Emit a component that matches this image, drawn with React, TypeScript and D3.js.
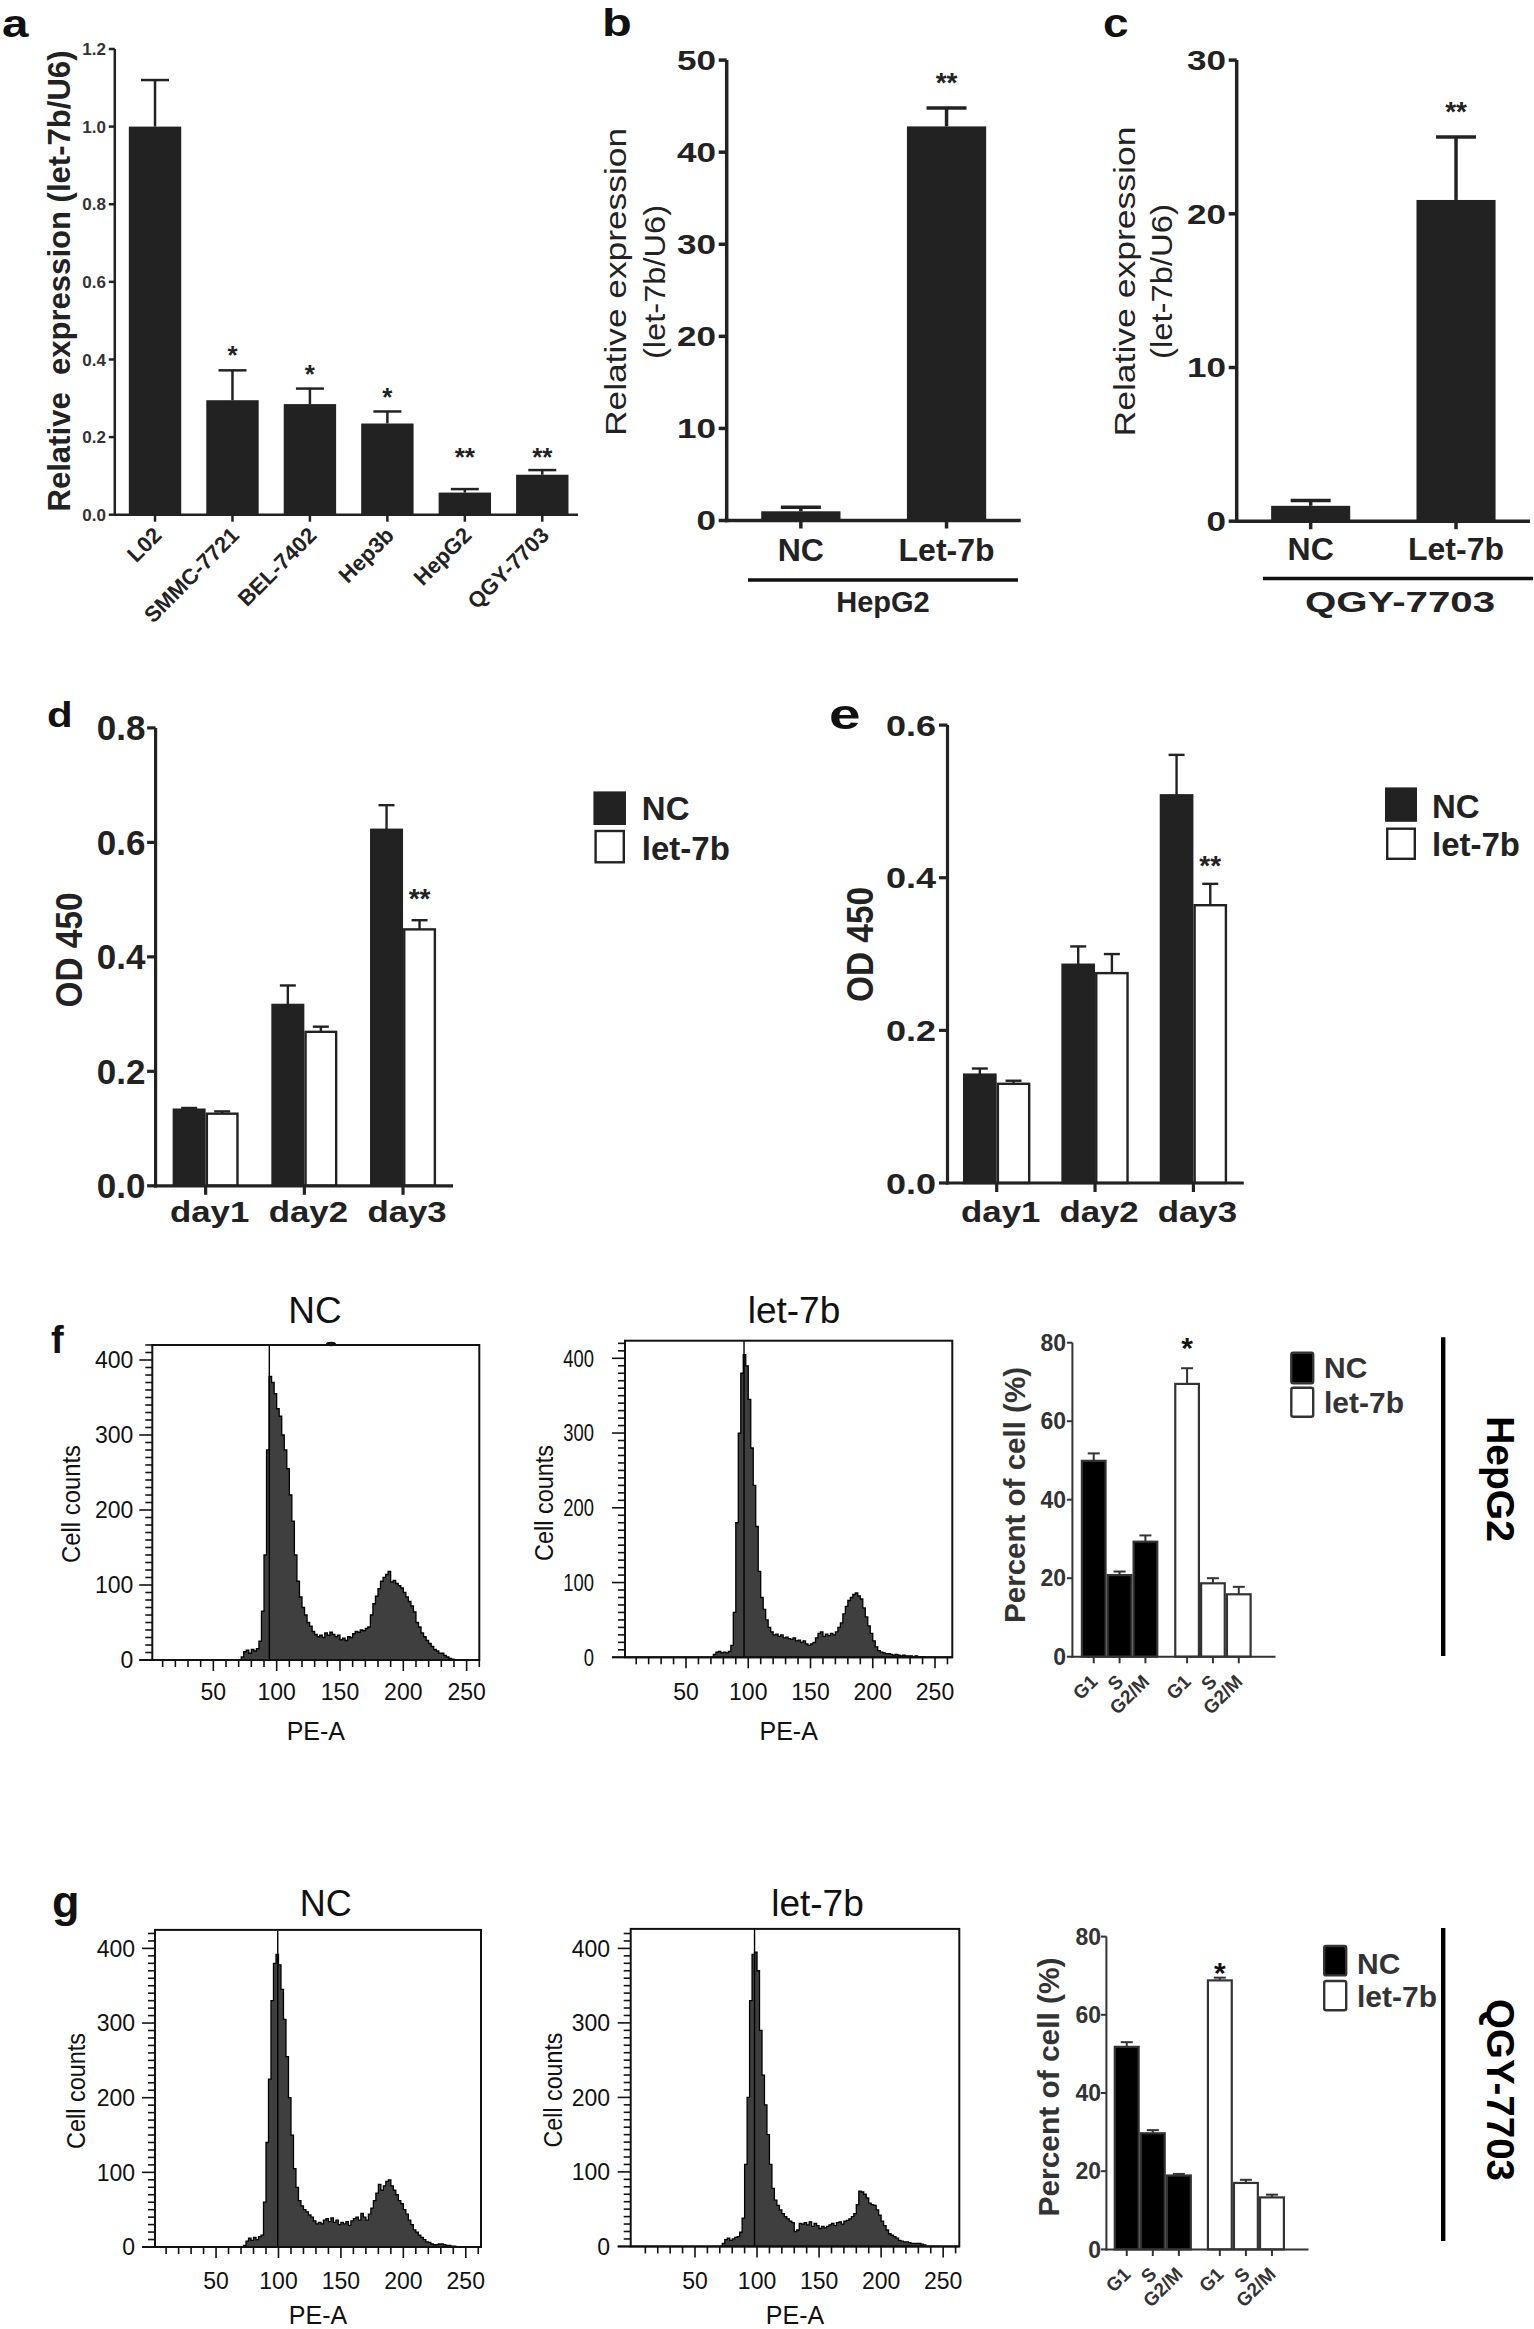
import React from 'react';
import * as d3 from 'd3';

const FONT = '"Liberation Sans", Arial, Helvetica, sans-serif';

// ---------- data: panel a ----------
const aCats = ['L02', 'SMMC-7721', 'BEL-7402', 'Hep3b', 'HepG2', 'QGY-7703'];
const aMean = [1.0, 0.295, 0.285, 0.235, 0.057, 0.103];
const aErr = [0.12, 0.077, 0.04, 0.031, 0.009, 0.012];
const aSig = ['', '*', '*', '*', '**', '**'];
const aSigAt = [0, 0.425, 0.377, 0.316, 0.163, 0.163];
const aTicks = [0, 0.2, 0.4, 0.6, 0.8, 1.0, 1.2];

// ---------- data: panels b, c ----------
const bcCats = ['NC', 'Let-7b'];
const bMean = [1.0, 42.8];
const bErr = [0.45, 2.0];
const bSig = ['', '**'];
const bSigAt = [0, 48.2];
const bTicks = [0, 10, 20, 30, 40, 50];
const cMean = [1.0, 20.9];
const cErr = [0.35, 4.1];
const cSig = ['', '**'];
const cSigAt = [0, 27.07];
const cTicks = [0, 10, 20, 30];

// ---------- data: panels d, e ----------
const days = ['day1', 'day2', 'day3'];
const dNC = [0.133, 0.316, 0.622];
const dNCErr = [0.003, 0.034, 0.043];
const dLet = [0.126, 0.269, 0.448];
const dLetErr = [0.004, 0.009, 0.016];
const dSig = ['', '', '**'];
const dSigAt = [0, 0, 0.513];
const dTicks = [0, 0.2, 0.4, 0.6, 0.8];
const eNC = [0.142, 0.286, 0.508];
const eNCErr = [0.008, 0.024, 0.053];
const eLet = [0.13, 0.275, 0.364];
const eLetErr = [0.004, 0.025, 0.028];
const eSig = ['', '', '**'];
const eSigAt = [0, 0, 0.4237];
const eTicks = [0, 0.2, 0.4, 0.6];

// ---------- data: cell cycle bars f, g ----------
const phases = ['G1', 'S', 'G2/M'];
const groups = ['NC', 'let-7b'];
const fNC = [49.9, 20.8, 29.3];
const fNCErr = [1.9, 0.9, 1.6];
const fLet = [69.5, 18.7, 15.9];
const fLetErr = [4.0, 1.3, 1.9];
const fSigAt = 80.25;
const gNC = [51.8, 29.7, 18.9];
const gNCErr = [1.2, 0.8, 0.4];
const gLet = [68.8, 17.0, 13.3];
const gLetErr = [0.7, 0.8, 0.7];
const gSigAt = 72.3;
const pctTicks = [0, 20, 40, 60, 80];

// ---------- data: DNA histograms (PE-A bins start 70, width 2) ----------
const histPE0 = 70;
const histStep = 2;
const histYTicks = [0, 100, 200, 300, 400];
const histXTicks = [50, 100, 150, 200, 250];
const fNcCounts = [
  0, 4, 11, 13, 9, 14, 12, 15, 25, 65,
  140, 280, 378, 370, 355, 335, 325, 300, 280, 255,
  220, 185, 140, 105, 84, 70, 60, 50, 45, 38,
  34, 31, 33, 30, 36, 33, 37, 34, 31, 33,
  27, 29, 26, 31, 30, 35, 38, 37, 40, 39,
  42, 44, 60, 75, 85, 95, 105, 110, 114, 118,
  104, 106, 102, 99, 96, 90, 84, 78, 72, 64,
  50, 44, 36, 31, 26, 22, 18, 14, 12, 9,
  9, 6, 4, 2, 1, 0, 0, 0, 0,
];
const fLetCounts = [
  0, 4, 7, 8, 6, 7, 6, 8, 16, 60,
  180, 300, 380, 405, 390, 345, 280, 230, 175, 115,
  80, 64, 50, 40, 34, 30, 31, 28, 30, 26,
  27, 25, 24, 26, 22, 23, 20, 22, 18, 16,
  18, 20, 26, 32, 34, 28, 31, 29, 32, 30,
  34, 40, 46, 58, 68, 76, 80, 84, 86, 82,
  78, 66, 54, 42, 32, 22, 14, 9, 7, 6,
  5, 5, 4, 3, 4, 3, 2, 3, 2, 2,
  2, 1, 2, 1, 1, 1, 0, 0, 0,
];
const gNcCounts = [
  0, 2, 8, 12, 9, 13, 10, 14, 16, 60,
  140, 225, 330, 380, 392, 378, 345, 305, 255, 200,
  150, 105, 80, 62, 55, 50, 47, 43, 40, 35,
  31, 33, 31, 36, 38, 34, 39, 33, 36, 30,
  33, 31, 34, 29, 35, 38, 40, 36, 45, 40,
  36, 44, 52, 62, 72, 84, 76, 82, 88, 90,
  82, 76, 70, 62, 58, 50, 44, 36, 30, 23,
  20, 16, 13, 10, 7, 6, 4, 3, 3, 4,
  4, 3, 2, 2, 1, 1, 0, 0, 0,
];
const gLetCounts = [
  0, 4, 9, 11, 8, 10, 12, 13, 19, 38,
  110, 200, 330, 392, 395, 370, 290, 230, 190, 150,
  110, 78, 62, 55, 49, 44, 40, 37, 34, 32,
  20, 22, 31, 30, 32, 29, 33, 27, 31, 28,
  24, 27, 25, 27, 29, 31, 28, 32, 33, 30,
  34, 35, 37, 40, 44, 56, 74, 73, 70, 65,
  58, 56, 55, 49, 42, 34, 28, 22, 17, 15,
  13, 11, 8, 7, 6, 6, 5, 4, 4, 4,
  4, 3, 2, 0, 0, 0, 0, 0, 0,
];

// ---------- helpers ----------
function T(props: any) {
  const { x, y, rot = 0, sx = 1, sy = 1, size, weight = 'normal', anchor = 'start', fill = '#222', len, children, pre } = props;
  let tr = `translate(${x},${y})`;
  if (rot) tr += ` rotate(${rot})`;
  if (sx !== 1 || sy !== 1) tr += ` scale(${sx},${sy})`;
  return (
    <text
      transform={tr}
      fontFamily={FONT}
      fontSize={size}
      fontWeight={weight}
      textAnchor={anchor}
      fill={fill}
      textLength={len}
      lengthAdjust={len ? 'spacingAndGlyphs' : undefined}
      xmlSpace={pre ? 'preserve' : undefined}
      style={pre ? { whiteSpace: 'pre' } : undefined}
    >
      {children}
    </text>
  );
}

function ErrBar({ cx, y1, y2, hw, sw, color = '#222' }: any) {
  return (
    <g stroke={color} strokeWidth={sw}>
      <line x1={cx} x2={cx} y1={y1} y2={y2} />
      <line x1={cx - hw} x2={cx + hw} y1={y2} y2={y2} />
    </g>
  );
}

// ---------- panel a ----------
function PanelA() {
  const x = d3.scaleBand<string>().domain(aCats).range([116.3, 581]).paddingInner(0.3235).paddingOuter(0.1617);
  const y = d3.scaleLinear().domain([0, 1.2]).range([514.7, 49]);
  const ax = 114.8;
  const y0 = y(0);
  const bw = x.bandwidth();
  return (
    <g>
      <T x={2} y={37} size={39} sx={1.22} weight="bold" fill="#111">a</T>
      {aCats.map((c, i) => {
        const cx = (x(c) as number) + bw / 2;
        return (
          <g key={c}>
            <rect x={x(c)} y={y(aMean[i])} width={bw} height={y0 - y(aMean[i])} fill="#222" />
            <ErrBar cx={cx} y1={y(aMean[i])} y2={y(aMean[i] + aErr[i])} hw={14} sw={2.5} />
            {aSig[i] ? (
              <T x={cx} y={y(aSigAt[i]) + 0.553 * 26} size={26} weight="bold" anchor="middle">{aSig[i]}</T>
            ) : null}
            <line x1={cx} x2={cx} y1={y0} y2={y0 + 7} stroke="#222" strokeWidth={2.5} />
            <T x={cx + 8} y={y0 + 22} rot={-45} size={22} weight="bold" anchor="end">{c}</T>
          </g>
        );
      })}
      <line x1={ax} x2={ax} y1={y(1.2)} y2={y0 + 1.2} stroke="#222" strokeWidth={2.5} />
      <line x1={ax - 1.2} x2={578} y1={y0} y2={y0} stroke="#222" strokeWidth={2.5} />
      {aTicks.map((t) => (
        <g key={t}>
          <line x1={ax - 6} x2={ax} y1={y(t)} y2={y(t)} stroke="#222" strokeWidth={2.5} />
          <T x={106} y={y(t) + 6.2} size={17} weight="bold" anchor="end" fill="#333">{d3.format('.1f')(t)}</T>
        </g>
      ))}
      <T x={70} y={281} rot={-90} size={31} weight="bold" anchor="middle" len={461} pre>
        {'Relative  expression (let-7b/U6)'}
      </T>
    </g>
  );
}

// ---------- panels b, c ----------
function ExprPanel({ cfg }: any) {
  const x = d3.scaleBand<string>().domain(bcCats).range([cfg.ax, cfg.ar]).paddingInner(0.456).paddingOuter(0.237);
  const y = d3.scaleLinear().domain([0, cfg.yMax]).range([cfg.py0, cfg.pyTop]);
  const y0 = y(0);
  const bw = x.bandwidth();
  return (
    <g>
      <T x={cfg.letterX} y={cfg.letterBase} size={cfg.letterSize} sx={cfg.letterSx} weight="bold" fill="#111">{cfg.letter}</T>
      {bcCats.map((c, i) => {
        const cx = (x(c) as number) + bw / 2;
        return (
          <g key={c}>
            <rect x={x(c)} y={y(cfg.means[i])} width={bw} height={y0 - y(cfg.means[i])} fill="#222" />
            <ErrBar cx={cx} y1={y(cfg.means[i])} y2={y(cfg.means[i] + cfg.errs[i])} hw={20} sw={3.5} />
            {cfg.sig[i] ? (
              <T x={cx} y={y(cfg.sigAt[i]) + 0.553 * 28} size={28} weight="bold" anchor="middle">{cfg.sig[i]}</T>
            ) : null}
            <line x1={cx} x2={cx} y1={y0} y2={y0 + 8} stroke="#222" strokeWidth={3.5} />
            <T x={cx} y={cfg.xlabBase} size={32} weight="bold" anchor="middle">{c}</T>
          </g>
        );
      })}
      <line x1={cfg.ax} x2={cfg.ax} y1={cfg.pyTop} y2={y0 + 1.7} stroke="#222" strokeWidth={3.5} />
      <line x1={cfg.ax - 1.7} x2={cfg.ar} y1={y0} y2={y0} stroke="#222" strokeWidth={3.5} />
      {cfg.ticks.map((t: number) => (
        <g key={t}>
          <line x1={cfg.ax - 8} x2={cfg.ax} y1={y(t)} y2={y(t)} stroke="#222" strokeWidth={3.5} />
          <T x={cfg.tickEnd} y={y(t) + 9.7} size={27} sx={1.3} weight="bold" anchor="end">{String(t)}</T>
        </g>
      ))}
      <line x1={cfg.uX1} x2={cfg.uX2} y1={cfg.uY} y2={cfg.uY} stroke="#111" strokeWidth={3.5} />
      <T x={(cfg.uX1 + cfg.uX2) / 2 + cfg.groupDx} y={612} size={29} weight="bold" anchor="middle" len={cfg.groupLen}>{cfg.group}</T>
      <T x={cfg.yl1x} y={cfg.ylY} rot={-90} sy={0.85} size={34} anchor="middle" len={cfg.yl1len}>Relative expression</T>
      <T x={cfg.yl2x} y={cfg.ylY} rot={-90} sy={0.85} size={34} anchor="middle" len={cfg.yl2len}>(let-7b/U6)</T>
    </g>
  );
}

// ---------- panels d, e ----------
function GrowthPanel({ cfg }: any) {
  const x0 = d3.scaleBand<string>().domain(days).range([cfg.gx0, cfg.gx1]).paddingInner(cfg.pi).paddingOuter(cfg.pi / 2);
  const x1 = d3.scaleBand<string>().domain(groups).range([0, x0.bandwidth()]);
  const y = d3.scaleLinear().domain([0, cfg.yMax]).range([cfg.py0, cfg.pyTop]);
  const y0 = y(0);
  const bw = x1.bandwidth();
  const series = [
    { key: 'NC', vals: cfg.nc, errs: cfg.ncErr, fill: '#222' },
    { key: 'let-7b', vals: cfg.lt, errs: cfg.ltErr, fill: '#fff' },
  ];
  return (
    <g>
      <T x={cfg.letterX} y={cfg.letterBase} size={cfg.letterSize} sx={cfg.letterSx} weight="bold" fill="#111">{cfg.letter}</T>
      {days.map((dd, i) => {
        const gx = x0(dd) as number;
        const tickX = gx + x0.bandwidth() / 2;
        return (
          <g key={dd}>
            {series.map((s) => {
              const bx = gx + (x1(s.key) as number);
              return (
                <g key={s.key}>
                  <rect x={bx + 1.2} y={y(s.vals[i])} width={bw - 2.4} height={y0 - y(s.vals[i])} fill={s.fill} stroke="#222" strokeWidth={2.4} />
                  <ErrBar cx={bx + bw / 2} y1={y(s.vals[i])} y2={y(s.vals[i] + s.errs[i])} hw={8} sw={2.4} />
                </g>
              );
            })}
            {cfg.sig[i] ? (
              <T x={gx + (x1('let-7b') as number) + bw / 2} y={y(cfg.sigAt[i]) + 0.553 * 28} size={28} weight="bold" anchor="middle">{cfg.sig[i]}</T>
            ) : null}
            <line x1={tickX} x2={tickX} y1={y0} y2={y0 + 9} stroke="#222" strokeWidth={3.2} />
            <T x={tickX + 4} y={1222} size={29} sx={1.2} weight="bold" anchor="middle">{dd}</T>
          </g>
        );
      })}
      <line x1={cfg.ax} x2={cfg.ax} y1={cfg.pyTop} y2={y0 + 1.6} stroke="#222" strokeWidth={3.2} />
      <line x1={cfg.ax - 1.6} x2={cfg.ar} y1={y0} y2={y0} stroke="#222" strokeWidth={3.2} />
      {cfg.ticks.map((t: number) => (
        <g key={t}>
          <line x1={cfg.ax - 8.5} x2={cfg.ax} y1={y(t)} y2={y(t)} stroke="#222" strokeWidth={3.2} />
          <T x={cfg.tickEnd} y={y(t) + 0.358 * cfg.tickSize} size={cfg.tickSize} sx={cfg.tickSx} weight="bold" anchor="end">{d3.format('.1f')(t)}</T>
        </g>
      ))}
      <T x={cfg.odX} y={cfg.odY} rot={-90} size={36} weight="bold" anchor="middle" len={115}>OD 450</T>
      <rect x={cfg.lgX} y={cfg.lgY1} width={cfg.lgW} height={cfg.lgH1} fill="#222" stroke="#222" strokeWidth={2} />
      <rect x={cfg.lgX + 1.2} y={cfg.lgY2} width={cfg.lgW - 2.4} height={cfg.lgH2} fill="#fff" stroke="#222" strokeWidth={2.4} />
      <T x={cfg.lgTx} y={cfg.lgTb1} size={33} weight="bold">NC</T>
      <T x={cfg.lgTx} y={cfg.lgTb2} size={33} weight="bold">let-7b</T>
    </g>
  );
}

// ---------- histograms ----------
function Hist({ cfg }: any) {
  const { box } = cfg;
  const x = d3.scaleLinear().domain(cfg.xDom).range([box.l, box.r]);
  const y = d3.scaleLinear().domain([0, 400]).range([box.b, cfg.y400]);
  const pts = cfg.counts.map((c: number, i: number) => ({ pe: histPE0 + i * histStep, c }));
  pts.push({ pe: histPE0 + cfg.counts.length * histStep, c: 0 });
  const area = d3
    .area<any>()
    .x((d) => x(d.pe))
    .y0(y(0))
    .y1((d) => y(d.c))
    .curve(d3.curveStepAfter);
  const topCount = y.invert(box.t);
  const yTicks = d3.range(0, Math.floor(topCount) + 1, 10);
  const xTicks = d3.range(10, 261, 10).filter((v) => x(v) > box.l + 2 && x(v) <= box.r + 0.5);
  const clipId = `clip-${cfg.id}`;
  return (
    <g>
      <defs>
        <clipPath id={clipId}>
          <rect x={box.l} y={box.t} width={box.r - box.l} height={box.b - box.t} />
        </clipPath>
      </defs>
      <g clipPath={`url(#${clipId})`}>
        <path d={area(pts) as string} fill="#3f3f3f" stroke="#000" strokeWidth={1.3} strokeLinejoin="miter" />
        <line x1={x(cfg.spike)} x2={x(cfg.spike)} y1={y(0)} y2={box.t} stroke="#000" strokeWidth={1.4} />
      </g>
      <rect x={box.l} y={box.t} width={box.r - box.l} height={box.b - box.t} fill="none" stroke="#111" strokeWidth={2} />
      {yTicks.map((c) => (
        <line key={c} x1={box.l - (c % 100 === 0 ? 13 : 7)} x2={box.l} y1={y(c)} y2={y(c)} stroke="#111" strokeWidth={1.6} />
      ))}
      {histYTicks.map((c) => (
        <T key={c} x={cfg.tickEnd} y={y(c) + 8.2} size={23} sx={cfg.tickSx || 1} anchor="end" fill="#111">{String(c)}</T>
      ))}
      <line x1={box.l - 13} x2={box.r} y1={box.b} y2={box.b} stroke="#111" strokeWidth={2} />
      {xTicks.map((v) => (
        <line key={v} x1={x(v)} x2={x(v)} y1={box.b} y2={box.b + (v % 50 === 0 ? 11 : 7)} stroke="#111" strokeWidth={1.6} />
      ))}
      {histXTicks.map((v) => (
        <T key={v} x={x(v)} y={cfg.xLabBase} size={23} anchor="middle" fill="#111">{String(v)}</T>
      ))}
      <T x={(box.l + box.r) / 2} y={cfg.peBase} size={25} anchor="middle" fill="#111">PE-A</T>
      <T x={cfg.cellX} y={cfg.cellY} rot={-90} size={25} anchor="middle" fill="#111" len={cfg.cellLen}>Cell counts</T>
      <T x={cfg.titleX} y={cfg.titleBase} size={cfg.titleSize} anchor="middle" fill="#111">{cfg.title}</T>
      {cfg.mark ? <ellipse cx={cfg.mark} cy={box.t - 1} rx={5} ry={2.2} fill="#111" /> : null}
    </g>
  );
}

// ---------- cell-cycle bar charts ----------
function CyclePanel({ cfg }: any) {
  const gx = d3.scaleBand<string>().domain(groups).range([cfg.g0, cfg.g1]).paddingInner(cfg.pi).paddingOuter(0);
  const px = d3.scaleBand<string>().domain(phases).range([0, gx.bandwidth()]);
  const y = d3.scaleLinear().domain([0, 80]).range([cfg.py0, cfg.py80]);
  const y0 = y(0);
  const bw = px.bandwidth();
  const series = [
    { key: 'NC', vals: cfg.nc, errs: cfg.ncErr, fill: '#000' },
    { key: 'let-7b', vals: cfg.lt, errs: cfg.ltErr, fill: '#fff' },
  ];
  return (
    <g>
      {series.map((s) => (
        <g key={s.key}>
          {phases.map((p, i) => {
            const bx = (gx(s.key) as number) + (px(p) as number);
            const cx = bx + bw / 2;
            return (
              <g key={p}>
                <rect x={bx + 1.1} y={y(s.vals[i])} width={bw - 2.2} height={y0 - y(s.vals[i])} fill={s.fill} stroke="#333" strokeWidth={2.2} />
                <ErrBar cx={cx} y1={y(s.vals[i])} y2={y(s.vals[i] + s.errs[i])} hw={6} sw={2} color="#333" />
                <line x1={cx} x2={cx} y1={y0} y2={y0 + 6.6} stroke="#333" strokeWidth={2} />
                <T x={cx + 5} y={y0 + 26} rot={-45} size={19} weight="bold" anchor="end" fill="#333">{p}</T>
              </g>
            );
          })}
        </g>
      ))}
      <T x={(gx('let-7b') as number) + (px('G1') as number) + bw / 2} y={y(cfg.sigAt) + 0.553 * 30} size={30} weight="bold" anchor="middle" fill="#111">*</T>
      <line x1={cfg.ax} x2={cfg.ax} y1={cfg.py80} y2={y0 + 1} stroke="#333" strokeWidth={2} />
      <line x1={cfg.ax - 1} x2={cfg.ar} y1={y0} y2={y0} stroke="#333" strokeWidth={2} />
      {pctTicks.map((t) => (
        <g key={t}>
          <line x1={cfg.ax - 5.5} x2={cfg.ax} y1={y(t)} y2={y(t)} stroke="#333" strokeWidth={2} />
          <T x={cfg.tickEnd} y={y(t) + 8.2} size={23} weight="bold" anchor="end" fill="#333">{String(t)}</T>
        </g>
      ))}
      <T x={cfg.ylX} y={cfg.ylY} rot={-90} size={cfg.ylSize} weight="bold" anchor="middle" fill="#333" len={cfg.ylLen}>Percent of cell (%)</T>
      <rect x={cfg.lgX} y={cfg.lgY1} width={cfg.lgW} height={cfg.lgH1} rx={2} fill="#000" stroke="#333" strokeWidth={2.4} />
      <rect x={cfg.lgX} y={cfg.lgY2} width={cfg.lgW} height={cfg.lgH2} rx={2} fill="#fff" stroke="#333" strokeWidth={2.4} />
      <T x={cfg.lgTx} y={cfg.lgTb1} size={30} weight="bold" fill="#333">NC</T>
      <T x={cfg.lgTx} y={cfg.lgTb2} size={30} weight="bold" fill="#333">let-7b</T>
      <line x1={cfg.vx} x2={cfg.vx} y1={cfg.vy1} y2={cfg.vy2} stroke="#000" strokeWidth={4.4} />
      <T x={1487} y={cfg.cellY} rot={90} size={cfg.cellSize} weight="bold" anchor="middle" fill="#000" len={cfg.cellLen}>{cfg.cell}</T>
    </g>
  );
}

const bCfg = {
  means: bMean, errs: bErr, sig: bSig, sigAt: bSigAt, ticks: bTicks, yMax: 50,
  ax: 726.7, ar: 1020.7, py0: 520.5, pyTop: 60.1, tickEnd: 716,
  letter: 'b', letterX: 602, letterBase: 36.4, letterSize: 39, letterSx: 1.25,
  xlabBase: 560.7, uX1: 748, uX2: 1018, uY: 580, group: 'HepG2', groupDx: 0, groupLen: undefined,
  yl1x: 626, yl2x: 664.5, ylY: 282, yl1len: 308, yl2len: 154,
};
const cCfg = {
  means: cMean, errs: cErr, sig: cSig, sigAt: cSigAt, ticks: cTicks, yMax: 30,
  ax: 1236.7, ar: 1530, py0: 521.2, pyTop: 60.1, tickEnd: 1226,
  letter: 'c', letterX: 1103, letterBase: 37, letterSize: 40, letterSx: 1.15,
  xlabBase: 559.5, uX1: 1263, uX2: 1533, uY: 578.6, group: 'QGY-7703', groupDx: 2, groupLen: 190,
  yl1x: 1134.5, yl2x: 1171.5, ylY: 281.5, yl1len: 310, yl2len: 155,
};
const dCfg = {
  nc: dNC, ncErr: dNCErr, lt: dLet, ltErr: dLetErr, sig: dSig, sigAt: dSigAt, ticks: dTicks, yMax: 0.8,
  gx0: 156.3, gx1: 452.4, pi: 0.331, ax: 155.6, ar: 453, py0: 1185.8, pyTop: 727.9,
  tickEnd: 145.4, tickSize: 35, tickSx: 1,
  letter: 'd', letterX: 47, letterBase: 727, letterSize: 35, letterSx: 1.2,
  odX: 81.6, odY: 950,
  lgX: 594.4, lgY1: 792.4, lgH1: 31.6, lgY2: 831, lgH2: 31.3, lgW: 30.6, lgTx: 641.8, lgTb1: 820, lgTb2: 859.6,
};
const eCfg = {
  nc: eNC, ncErr: eNCErr, lt: eLet, ltErr: eLetErr, sig: eSig, sigAt: eSigAt, ticks: eTicks, yMax: 0.6,
  gx0: 947.5, gx1: 1242.6, pi: 0.315, ax: 947.5, ar: 1243.8, py0: 1183, pyTop: 725.1,
  tickEnd: 936, tickSize: 30, tickSx: 1.2,
  letter: 'e', letterX: 829, letterBase: 729, letterSize: 42, letterSx: 1.35,
  odX: 872.6, odY: 944.5,
  lgX: 1386, lgY1: 788.4, lgH1: 32.4, lgY2: 828.7, lgH2: 30.1, lgW: 30, lgTx: 1432, lgTb1: 818, lgTb2: 855.6,
};
const fNcCfg = {
  id: 'fnc', box: { l: 152.3, r: 479.3, t: 1345, b: 1660 }, y400: 1360, xDom: [1.8, 260], counts: fNcCounts, spike: 94.2,
  title: 'NC', titleX: 315, titleBase: 1323.3, titleSize: 37, tickEnd: 133.3, xLabBase: 1700, peBase: 1740,
  cellX: 80, cellY: 1504, cellLen: 118, mark: 331,
};
const fLetCfg = {
  id: 'flet', box: { l: 625, r: 952.3, t: 1340.7, b: 1657.3 }, y400: 1358.3, xDom: [1.0, 263.9], counts: fLetCounts, spike: 96.6,
  title: 'let-7b', titleX: 794, titleBase: 1323.3, titleSize: 37, tickEnd: 594, tickSx: 0.8, xLabBase: 1700, peBase: 1740,
  cellX: 553, cellY: 1503, cellLen: 116,
};
const gNcCfg = {
  id: 'gnc', box: { l: 155, r: 481, t: 1929.9, b: 2247 }, y400: 1948.4, xDom: [1.1, 262.2], counts: gNcCounts, spike: 99.4,
  title: 'NC', titleX: 325.8, titleBase: 1916.4, titleSize: 36, tickEnd: 135, xLabBase: 2289, peBase: 2323.5,
  cellX: 85, cellY: 2091, cellLen: 116,
};
const gLetCfg = {
  id: 'glet', box: { l: 630.7, r: 959.3, t: 1928.9, b: 2246.4 }, y400: 1948.4, xDom: [-1.8, 263], counts: gLetCounts, spike: 98,
  title: 'let-7b', titleX: 817.5, titleBase: 1916.4, titleSize: 37, tickEnd: 610, xLabBase: 2289, peBase: 2323.5,
  cellX: 561.7, cellY: 2090, cellLen: 115,
};
const fBarCfg = {
  nc: fNC, ncErr: fNCErr, lt: fLet, ltErr: fLetErr, sigAt: fSigAt,
  ax: 1072.4, ar: 1275.5, py0: 1656.7, py80: 1342.7, g0: 1080.8, g1: 1251.7, pi: 0.1695, tickEnd: 1066,
  ylX: 1025, ylY: 1495, ylLen: 256, ylSize: 29,
  lgX: 1291.3, lgY1: 1352.7, lgH1: 30.6, lgY2: 1387.7, lgH2: 29, lgW: 21.9, lgTx: 1324, lgTb1: 1378.3, lgTb2: 1413.3,
  vx: 1443.2, vy1: 1337.3, vy2: 1656, cell: 'HepG2', cellY: 1479, cellSize: 39, cellLen: undefined,
};
const gBarCfg = {
  nc: gNC, ncErr: gNCErr, lt: gLet, ltErr: gLetErr, sigAt: gSigAt,
  ax: 1106.4, ar: 1308.5, py0: 2249.4, py80: 1936.6, g0: 1113.7, g1: 1285, pi: 0.16, tickEnd: 1101,
  ylX: 1059, ylY: 2087, ylLen: 259, ylSize: 30,
  lgX: 1324.2, lgY1: 1946, lgH1: 29.4, lgY2: 1981, lgH2: 29.2, lgW: 22, lgTx: 1357, lgTb1: 1973.7, lgTb2: 2006.5,
  vx: 1443.2, vy1: 1928, vy2: 2241, cell: 'QGY-7703', cellY: 2090, cellSize: 38, cellLen: 182,
};

export default function App() {
  return (
    <svg
      width={1534}
      height={2329}
      viewBox="0 0 1534 2329"
      style={{ position: 'absolute', left: 0, top: 0, background: '#fff', display: 'block' }}
    >
      <rect x={0} y={0} width={1534} height={2329} fill="#fff" />
      <PanelA />
      <ExprPanel cfg={bCfg} />
      <ExprPanel cfg={cCfg} />
      <GrowthPanel cfg={dCfg} />
      <GrowthPanel cfg={eCfg} />
      <T x={51} y={1353} size={38} weight="bold" fill="#111">f</T>
      <Hist cfg={fNcCfg} />
      <Hist cfg={fLetCfg} />
      <CyclePanel cfg={fBarCfg} />
      <T x={52} y={1917} size={45} weight="bold" fill="#111">g</T>
      <Hist cfg={gNcCfg} />
      <Hist cfg={gLetCfg} />
      <CyclePanel cfg={gBarCfg} />
    </svg>
  );
}
